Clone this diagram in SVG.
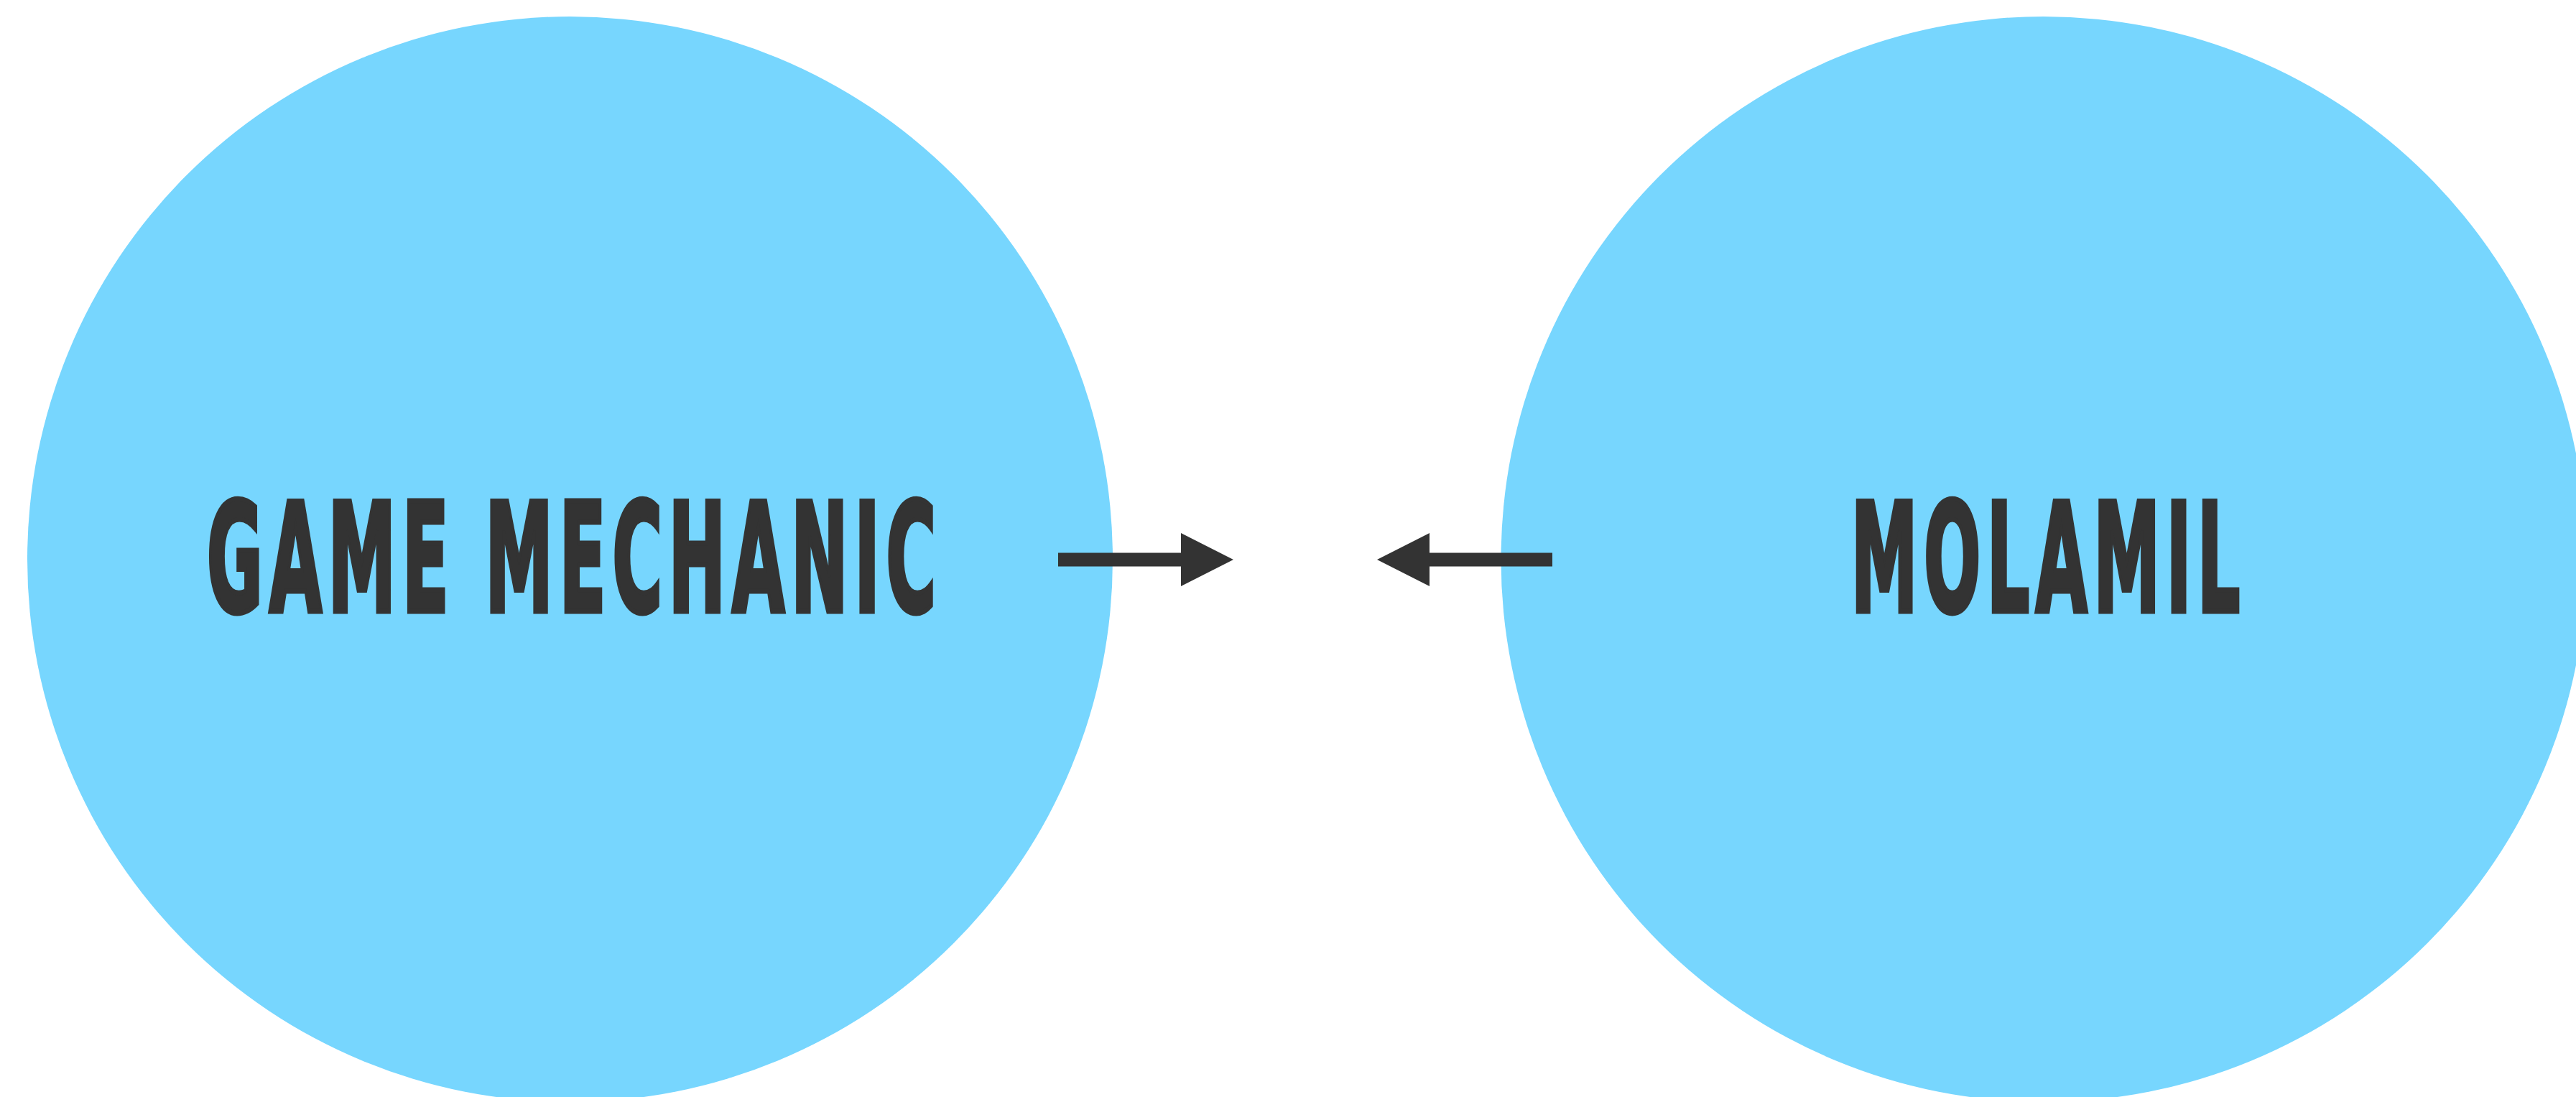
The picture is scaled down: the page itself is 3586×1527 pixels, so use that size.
<svg xmlns="http://www.w3.org/2000/svg" width="3586" height="1527" viewBox="0 0 3586 1527">
  <style>
    .bubble { fill: #77D6FE; }
    .label { font-family: "DejaVu Sans", "Liberation Sans", Arial, sans-serif; font-stretch: condensed; font-weight: bold; font-size: 210px; letter-spacing: 18px; fill: #333333; stroke: #333333; stroke-width: 7; stroke-linejoin: miter; text-anchor: middle; }
    .conn { stroke: #333333; stroke-width: 19; fill: none; }
  </style>
  <defs>
    <marker id="head" markerUnits="userSpaceOnUse" markerWidth="74" markerHeight="74" refX="0" refY="37" orient="auto" viewBox="0 0 74 74">
      <path d="M0,0 L73,37 L0,74 Z" fill="#333333"/>
    </marker>
  </defs>
  <rect x="0" y="0" width="3586" height="1527" fill="#FFFFFF"/>
  <g id="node-game-mechanic">
    <circle class="bubble" cx="793.5" cy="778.5" r="755.5"/>
    <text class="label" x="800" y="851" textLength="1024" lengthAdjust="spacingAndGlyphs">GAME MECHANIC</text>
  </g>
  <g id="node-molamil">
    <circle class="bubble" cx="2845" cy="778.5" r="755.5"/>
    <text class="label" x="2852" y="851" textLength="550" lengthAdjust="spacingAndGlyphs">MOLAMIL</text>
  </g>
  <g id="connectors">
    <line class="conn" x1="1473" y1="779" x2="1644" y2="779" marker-end="url(#head)"/>
    <line class="conn" x1="2161" y1="779" x2="1990" y2="779" marker-end="url(#head)"/>
  </g>
</svg>
